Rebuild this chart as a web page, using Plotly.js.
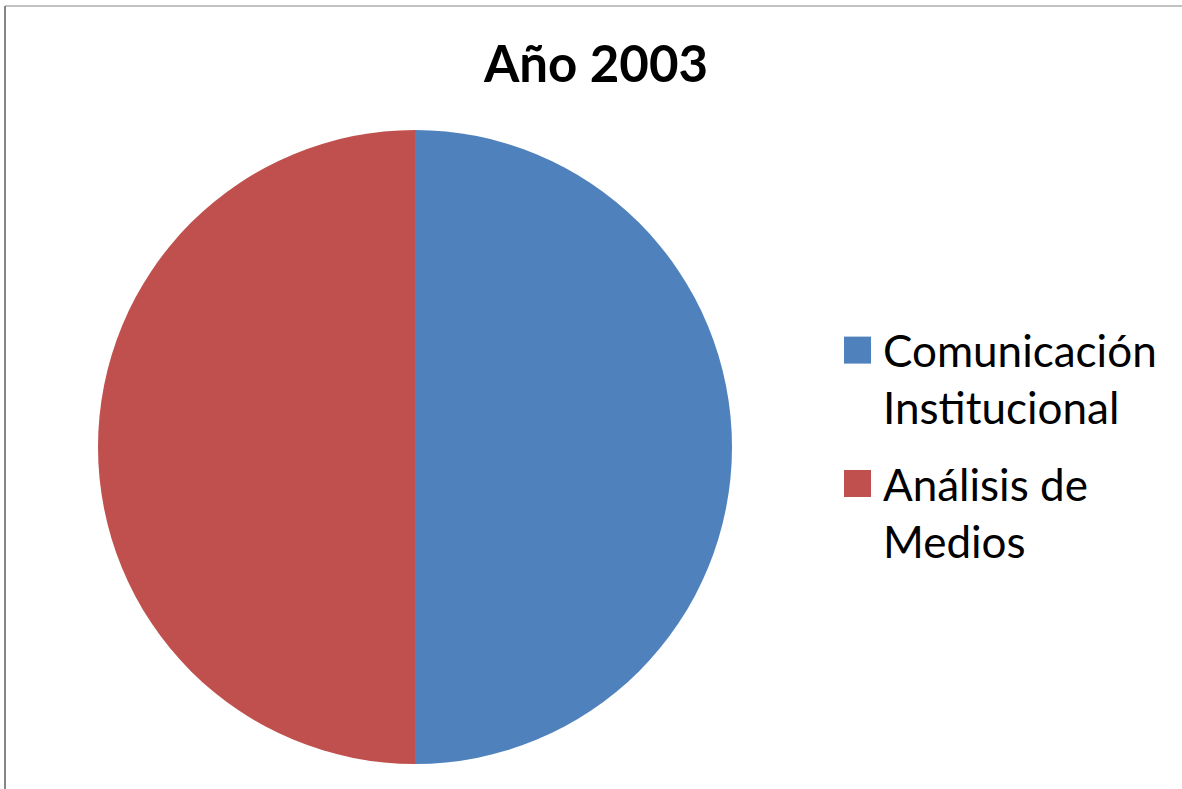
<!DOCTYPE html>
<html>
<head>
<meta charset="utf-8">
<script src="https://cdn.plot.ly/plotly-3.0.1.min.js"></script>
<style>
html,body{margin:0;padding:0;background:#fff;}
#chart{width:1182px;height:789px;}
</style>
</head>
<body>
<div id="chart"></div>
<script>
const chartTitle = "Año 2003";
const categories = ["Comunicación<br>Institucional", "Análisis de<br>Medios"];
const values = [50, 50];
const colors = ["#4F81BD", "#C0504D"];

const W = 1182, H = 789;
const cx = 415, cy = 447, r = 317;

const trace = {
  type: "pie",
  labels: categories,
  values: values,
  sort: false,
  direction: "clockwise",
  rotation: 0,
  textinfo: "none",
  hoverinfo: "label+percent",
  marker: {colors: colors, line: {width: 0}},
  domain: {
    x: [(cx - r) / W, (cx + r) / W],
    y: [(H - cy - r) / H, (H - cy + r) / H]
  }
};

const FONT = "Lato, 'Open Sans', sans-serif";

const layout = {
  width: W, height: H,
  margin: {l: 0, r: 0, t: 0, b: 0},
  paper_bgcolor: "#fff",
  font: {family: FONT, color: "#000"},
  title: {
    text: "<b>" + chartTitle + "</b>",
    font: {size: 51, family: FONT, color: "#000"},
    x: 596 / W, xanchor: "center",
    y: 1 - 64 / H, yanchor: "middle", yref: "container"
  },
  showlegend: true,
  legend: {
    x: 843 / W, xanchor: "left",
    y: 1 - 315 / H, yanchor: "top",
    valign: "top",
    font: {size: 44, family: FONT, color: "#000"},
    itemclick: false, itemdoubleclick: false
  },
  shapes: [
    {type: "line", xref: "paper", yref: "paper", x0: 5 / W, x1: 1, y0: 1 - 6 / H, y1: 1 - 6 / H, line: {color: "#868686", width: 1}},
    {type: "line", xref: "paper", yref: "paper", x0: 5 / W, x1: 5 / W, y0: 0, y1: 1 - 6 / H, line: {color: "#868686", width: 2}}
  ]
};

function tweakLegend(gd) {
  // larger square legend keys, like the reference
  gd.querySelectorAll(".legend .legendpoints path").forEach(p => {
    p.setAttribute("d", "M8,13.5H-19V-13.5H8Z");
  });
  // extra gap between the two legend entries
  gd.querySelectorAll(".legend .traces").forEach((g, i) => {
    const t = g.getAttribute("transform") || "";
    const m = t.match(/translate\(\s*([-\d.]+)[ ,]+([-\d.]+)\s*\)/);
    if (m) {
      g.setAttribute("transform", "translate(" + m[1] + "," + (parseFloat(m[2]) + i * 16) + ")");
    }
  });
}

Plotly.newPlot("chart", [trace], layout, {displayModeBar: false}).then(gd => tweakLegend(gd));
</script>
</body>
</html>
